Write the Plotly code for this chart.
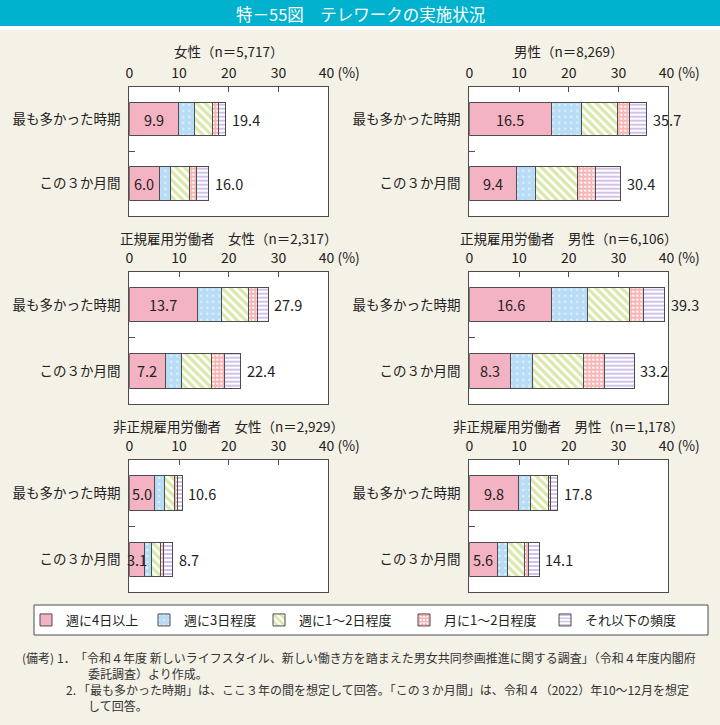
import plotly.graph_objects as go

W, H = 720, 725
FONT = "Noto Sans CJK JP"

# ---------------- data ----------------
categories = ["最も多かった時期", "この３か月間"]
series_names = ["週に4日以上", "週に3日程度", "週に1～2日程度", "月に1～2日程度", "それ以下の頻度"]
x_tickvals = [0, 10, 20, 30, 40]
x_ticktext = ["0", "10", "20", "30", "&nbsp;&nbsp;&nbsp;&nbsp;&nbsp;&nbsp;&nbsp;40 (%)"]

panel_titles = [
    "女性（n＝5,717）",
    "男性（n＝8,269）",
    "正規雇用労働者　女性（n＝2,317）",
    "正規雇用労働者　男性（n＝6,106）",
    "非正規雇用労働者　女性（n＝2,929）",
    "非正規雇用労働者　男性（n＝1,178）",
]

# segments: [週4日以上, 週3日程度, 週1～2日程度, 月1～2日程度, それ以下]
female_peak = [9.9, 3.3, 3.5, 1.2, 1.5]
female_recent = [6.0, 2.2, 3.8, 1.5, 2.5]
male_peak = [16.5, 6.1, 7.1, 2.5, 3.5]
male_recent = [9.4, 4.0, 8.4, 3.6, 5.0]
reg_female_peak = [13.7, 4.8, 5.4, 1.8, 2.2]
reg_female_recent = [7.2, 3.3, 6.0, 2.7, 3.2]
reg_male_peak = [16.6, 7.1, 8.5, 2.8, 4.3]
reg_male_recent = [8.3, 4.4, 10.2, 4.3, 6.0]
nonreg_female_peak = [5.0, 2.0, 2.1, 0.5, 1.0]
nonreg_female_recent = [3.1, 1.4, 1.8, 0.6, 1.8]
nonreg_male_peak = [9.8, 2.6, 3.5, 0.5, 1.4]
nonreg_male_recent = [5.6, 2.1, 3.3, 0.9, 2.2]

female_totals = [19.4, 16.0]
male_totals = [35.7, 30.4]
reg_female_totals = [27.9, 22.4]
reg_male_totals = [39.3, 33.2]
nonreg_female_totals = [10.6, 8.7]
nonreg_male_totals = [17.8, 14.1]

panels = [
    (female_peak, female_recent, female_totals),
    (male_peak, male_recent, male_totals),
    (reg_female_peak, reg_female_recent, reg_female_totals),
    (reg_male_peak, reg_male_recent, reg_male_totals),
    (nonreg_female_peak, nonreg_female_recent, nonreg_female_totals),
    (nonreg_male_peak, nonreg_male_recent, nonreg_male_totals),
]

title_text = "特－55図　テレワークの実施状況"
notes = [
    (20, 657, "(備考)"),
    (55, 657, "1．"),
    (73, 657, "「令和４年度 新しいライフスタイル、新しい働き方を踏まえた男女共同参画推進に関する調査」（令和４年度内閣府"),
    (86, 673, "委託調査）より作成。"),
    (64, 689, "2."),
    (76, 689, "「最も多かった時期」は、ここ３年の間を想定して回答。「この３か月間」は、令和４（2022）年10～12月を想定"),
    (86, 705, "して回答。"),
]

# ---------------- styles ----------------
BG = "#F4F1E6"
TEAL = "#00B2CD"
LINE = "#4D4D4D"
TXT = "#222222"
styles = [
    dict(color="#F4B3C3"),
    dict(color="white", pattern=dict(shape=".", fgcolor="#72BAEE", bgcolor="white", size=6, solidity=0.85)),
    dict(color="white", pattern=dict(shape="\\", fgcolor="#B4D158", bgcolor="white", size=6, solidity=0.55)),
    dict(color="white", pattern=dict(shape="+", fgcolor="#EE6A6A", bgcolor="white", size=4, solidity=0.7)),
    dict(color="white", pattern=dict(shape="-", fgcolor="#A286D6", bgcolor="white", size=4, solidity=0.5)),
]
legend_ids = ["legend", "legend2", "legend3", "legend4", "legend5"]
legend_swatch_left = [40, 158, 273, 418, 559]

col_x = [(129.3, 328.3), (469.3, 668.3)]
row_y = [(86.7, 216.0), (271.7, 404.0), (460.0, 592.3)]
title_y = [51.5, 237.5, 426]


def px_x(p):
    return p / W


def px_y(p):
    return 1 - p / H


fig = go.Figure()
layout = dict(
    width=W, height=H,
    margin=dict(l=0, r=0, t=0, b=0),
    paper_bgcolor=BG, plot_bgcolor="white",
    barmode="stack", bargap=0.48,
    font=dict(family=FONT, size=13, color=TXT),
    showlegend=True,
)
annotations = []
shapes = []

for k, (peak, recent, totals) in enumerate(panels):
    r, c = divmod(k, 2)
    sfx = "" if k == 0 else str(k + 1)
    xa, ya = "x" + sfx, "y" + sfx
    for s in range(5):
        m = dict(styles[s])
        m["line"] = dict(color=LINE, width=1)
        vals = [peak[s], recent[s]]
        fig.add_trace(go.Bar(
            x=vals, y=categories, orientation="h", name=series_names[s],
            marker=m, xaxis=xa, yaxis=ya,
            showlegend=(k == 0), legend=legend_ids[s], hoverinfo="skip",
        ))
    # value label centred on the first segment
    for i, v in enumerate([peak[0], recent[0]]):
        annotations.append(dict(
            text=f"{v:.1f}", xref=xa, yref=ya, x=v / 2, y=categories[i],
            xanchor="center", yanchor="middle", showarrow=False,
            font=dict(size=14.5, color=TXT),
        ))
    x0, x1 = col_x[c]
    y0, y1 = row_y[r]
    layout["xaxis" + sfx] = dict(
        domain=[px_x(x0), px_x(x1)], anchor=ya, side="top", range=[0, 40],
        tickmode="array", tickvals=x_tickvals, ticktext=x_ticktext,
        ticks="inside", ticklen=5, tickcolor=LINE, tickwidth=1,
        showline=True, linecolor=LINE, linewidth=1.3, mirror=True,
        showgrid=False, zeroline=False, fixedrange=True, automargin=False,
        tickfont=dict(size=14, color=TXT), ticklabelstandoff=2,
    )
    layout["yaxis" + sfx] = dict(
        domain=[px_y(y1), px_y(y0)], anchor=xa, type="category",
        categoryorder="array", categoryarray=categories, range=[1.5, -0.5],
        tickson="boundaries", ticks="inside", ticklen=6, tickcolor=LINE,
        showline=True, linecolor=LINE, linewidth=1.3, mirror=True,
        showgrid=False, zeroline=False, fixedrange=True, automargin=False,
        tickfont=dict(size=13.5, color=TXT), ticklabelstandoff=5,
    )
    annotations.append(dict(
        text=panel_titles[k], xref="paper", yref="paper",
        x=px_x((x0 + x1) / 2), y=px_y(title_y[r]), xanchor="center", yanchor="middle",
        showarrow=False, font=dict(size=13.5, color=TXT),
    ))
    for i, t in enumerate(totals):
        annotations.append(dict(
            text=f"{t:.1f}", xref=xa, yref=ya, x=t, y=categories[i],
            xanchor="left", yanchor="middle", xshift=4, showarrow=False,
            font=dict(size=14.5, color=TXT),
        ))

# title bar
shapes.append(dict(type="rect", xref="paper", yref="paper", x0=0, x1=1,
                   y0=px_y(26), y1=1, fillcolor=TEAL, line=dict(width=0), layer="below"))
shapes.append(dict(type="rect", xref="paper", yref="paper", x0=0, x1=1,
                   y0=px_y(30), y1=px_y(26), fillcolor="white", line=dict(width=0), layer="below"))
annotations.append(dict(text=title_text, xref="paper", yref="paper", x=0.5, y=px_y(14),
                        xanchor="center", yanchor="middle", showarrow=False,
                        font=dict(size=16.5, color="white")))

# legend box
shapes.append(dict(type="rect", xref="paper", yref="paper", x0=px_x(34), x1=px_x(708),
                   y0=px_y(635), y1=px_y(605), fillcolor="white",
                   line=dict(color=LINE, width=1), layer="below"))
for s, lid in enumerate(legend_ids):
    layout[lid] = dict(
        orientation="h", x=px_x(legend_swatch_left[s] - 14), y=px_y(620),
        xanchor="left", yanchor="middle", bgcolor="rgba(0,0,0,0)", borderwidth=0,
        font=dict(size=13, color=TXT, family=FONT), itemclick=False, itemdoubleclick=False,
    )

for x, y, t in notes:
    annotations.append(dict(text=t, xref="paper", yref="paper", x=px_x(x), y=px_y(y),
                            xanchor="left", yanchor="middle", showarrow=False,
                            font=dict(size=12, color="#333333")))

layout["annotations"] = annotations
layout["shapes"] = shapes
fig.update_layout(**layout)
fig.write_html("out.html")
